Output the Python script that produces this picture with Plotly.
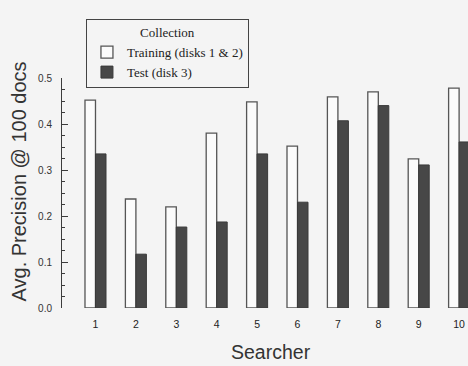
import plotly.graph_objects as go

searchers = ["1", "2", "3", "4", "5", "6", "7", "8", "9", "10"]
training = [0.452, 0.237, 0.220, 0.380, 0.448, 0.352, 0.459, 0.470, 0.324, 0.478]
test = [0.335, 0.117, 0.176, 0.187, 0.335, 0.230, 0.407, 0.440, 0.311, 0.361]
xpos = list(range(1, len(searchers) + 1))

BG = "#f4f4f4"
INK = "#3c3c3c"
SERIF = "Liberation Serif, Times New Roman, serif"

fig = go.Figure()
fig.add_trace(go.Bar(
    x=xpos, y=training, name="Training (disks 1 & 2)", legendgroup="train",
    marker=dict(color="#fbfbfb", line=dict(color="#555555", width=1.3)),
))
fig.add_trace(go.Bar(
    x=xpos, y=test, name="Test (disk 3)", legendgroup="test",
    marker=dict(color="#474747", line=dict(color="#3a3a3a", width=1)),
))

fig.update_layout(
    width=468, height=366,
    margin=dict(l=62, r=0, t=78, b=58),
    paper_bgcolor=BG, plot_bgcolor=BG,
    barmode="group", bargap=0.48, bargroupgap=0,
    font=dict(family="Liberation Sans, Arial, sans-serif", color="#333333"),
    legend=dict(
        x=0.059, y=1.255, xanchor="left", yanchor="top",
        bgcolor=BG, bordercolor="#444444", borderwidth=1,
        font=dict(family=SERIF, size=13, color="#222222"),
        title=dict(text="Collection", side="top center",
                   font=dict(family=SERIF, size=13, color="#222222")),
        traceorder="normal", tracegroupgap=4,
    ),
    xaxis=dict(
        domain=[0, 1], range=[0.171, 10.22],
        tickmode="array", tickvals=xpos, ticktext=searchers,
        showline=False, ticks="",
        showgrid=False, zeroline=False,
        tickfont=dict(size=10.5, color="#222222"), ticklabelstandoff=8,
    ),
    xaxis2=dict(
        domain=[0.054, 1], anchor="y", range=[0, 1],
        showline=True, linecolor=INK, linewidth=1, ticks="",
        showticklabels=False, showgrid=False, zeroline=False,
    ),
    yaxis=dict(
        anchor="x", range=[0, 0.5],
        tickmode="linear", tick0=0, dtick=0.1, tickformat=".1f",
        showline=True, linecolor=INK, linewidth=1,
        ticks="inside", ticklen=6, tickcolor=INK, tickwidth=1,
        minor=dict(tickmode="linear", tick0=0, dtick=0.025, ticks="inside",
                   ticklen=3, tickcolor=INK, tickwidth=1, showgrid=False),
        showgrid=False, zeroline=False,
        tickfont=dict(size=10, color="#333333"), ticklabelstandoff=7,
    ),
    annotations=[
        dict(text="Avg. Precision @ 100 docs", xref="paper", yref="paper",
             x=-0.106, y=0.55, textangle=-90, showarrow=False,
             xanchor="center", yanchor="middle",
             font=dict(size=20, color="#333333")),
        dict(text="Searcher", xref="paper", yref="paper",
             x=0.515, y=-0.191, showarrow=False,
             xanchor="center", yanchor="middle",
             font=dict(size=19.5, color="#333333")),
    ],
)

fig.write_html("out.html")
